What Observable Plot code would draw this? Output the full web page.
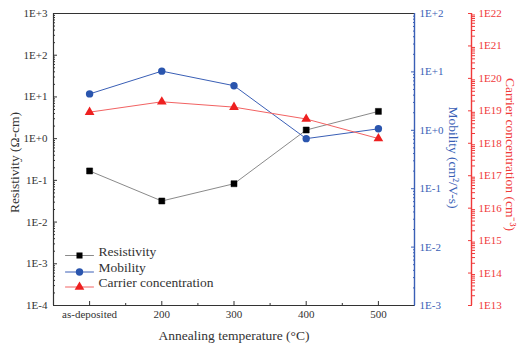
<!DOCTYPE html>
<html><head><meta charset="utf-8">
<script src="https://cdn.jsdelivr.net/npm/d3@7"></script>
<script src="https://cdn.jsdelivr.net/npm/@observablehq/plot@0.6"></script>
<style>body{margin:0;background:#fff} svg{display:block}</style>
</head><body><div id="chart"></div>
<script>
// ---- data ----
const categories = ["as-deposited", "200", "300", "400", "500"];
const temps = [100, 200, 300, 400, 500];
const resistivity = [0.168, 0.032, 0.083, 1.61, 4.5];      // Ω-cm
const mobility = [4.2, 10.3, 5.8, 0.72, 1.06];             // cm²/V-s
const carrier = [9.1e18, 1.9e19, 1.3e19, 5.6e18, 1.4e18];  // cm^-3
const resTickLabels = ["1E-4","1E-3","1E-2","1E-1","1E+0","1E+1","1E+2","1E+3"];
const mobTickLabels = ["1E-3","1E-2","1E-1","1E+0","1E+1","1E+2"];
const carTickLabels = ["1E13","1E14","1E15","1E16","1E17","1E18","1E19","1E20","1E21","1E22"];
const seriesNames = ["Resistivity", "Mobility", "Carrier concentration"];

// ---- scale mapping (all drawn on the resistivity log scale) ----
const resExp = [-4, 3], mobExp = [-3, 2], carExp = [13, 22];
const fromMob = m => 10 ** (resExp[0] + (Math.log10(m) - mobExp[0]) * (resExp[1]-resExp[0]) / (mobExp[1]-mobExp[0]));
const fromCar = c => 10 ** (resExp[0] + (Math.log10(c) - carExp[0]) * (resExp[1]-resExp[0]) / (carExp[1]-carExp[0]));
const majors = ([a, b]) => d3.range(a, b + 1).map(e => 10 ** e);
const minors = ([a, b]) => d3.range(a, b).flatMap(e => d3.range(2, 10).map(k => k * 10 ** e));

const resData = temps.map((t, i) => ({t, v: resistivity[i]}));
const mobData = temps.map((t, i) => ({t, v: fromMob(mobility[i])}));
const carData = temps.map((t, i) => ({t, v: fromCar(carrier[i])}));

const BLUE = "#3a5fb6", RED = "#f03a3a", INK = "#333";
const lineShape = {draw(ctx, l) { ctx.moveTo(0, 0); ctx.lineTo(0, -l); }};
const legend = [
  {name: seriesNames[0], line: "#8a8a8a", fill: "#000", symbol: "square", r: 3.4, dy: -50},
  {name: seriesNames[1], line: BLUE, fill: "#2a55ae", symbol: "circle", r: 3.7, dy: -33.5},
  {name: seriesNames[2], line: "#f26262", fill: "#ee2020", symbol: "triangle", r: 3.6, dy: -18.5}
];

const resMaj = majors(resExp), mobMaj = majors(mobExp).map(fromMob), carMaj = majors(carExp).map(fromCar);
const tickText = (ticks, labels) => ticks.map((v, i) => ({v, label: labels[i]}));

const plot = Plot.plot({
  width: 518, height: 349,
  marginLeft: 53, marginRight: 104, marginTop: 13, marginBottom: 44,
  style: {fontFamily: "'Liberation Serif', 'Times New Roman', serif", fontSize: "11px", color: INK, background: "#fff"},
  x: {domain: [50, 550]},
  y: {type: "log", domain: [1e-4, 1e3]},
  marks: [
    // left axis (black)
    Plot.axisY({ticks: resMaj, anchor: "left", tickSize: 4, dx: 4, fill: "none", stroke: INK, label: null}),
    Plot.axisY({ticks: minors(resExp), anchor: "left", tickSize: 2, dx: 2, fill: "none", stroke: INK, label: null}),
    Plot.text(tickText(resMaj, resTickLabels), {y: "v", text: "label", frameAnchor: "left", textAnchor: "end", dx: -6, fill: INK}),
    // mobility axis (blue)
    Plot.axisY({ticks: mobMaj, anchor: "right", tickSize: 4, dx: -4, fill: "none", stroke: BLUE, label: null}),
    Plot.axisY({ticks: minors(mobExp).map(fromMob), anchor: "right", tickSize: 2, dx: -2, fill: "none", stroke: BLUE, label: null}),
    Plot.text(tickText(mobMaj, mobTickLabels), {y: "v", text: "label", frameAnchor: "right", textAnchor: "start", dx: 5, fill: BLUE}),
    // carrier axis (red), offset to the right
    Plot.axisY({ticks: carMaj, anchor: "right", tickSize: 4, dx: 53, fill: "none", stroke: RED, label: null}),
    Plot.axisY({ticks: minors(carExp).map(fromCar), anchor: "right", tickSize: 3, dx: 57, fill: "none", stroke: RED, label: null}),
    Plot.text(tickText(carMaj, carTickLabels), {y: "v", text: "label", frameAnchor: "right", textAnchor: "start", dx: 64, fill: RED}),
    // x axis
    Plot.axisX({ticks: temps, tickFormat: (d, i) => categories[i], anchor: "bottom", tickSize: 4, dy: -4, tickPadding: 5, label: null, color: INK}),
    Plot.axisX({ticks: [150, 250, 350, 450], anchor: "bottom", tickSize: 2, dy: -2, fill: "none", stroke: INK, label: null}),
    // frame lines
    Plot.ruleY([1e3], {stroke: INK, strokeWidth: 1.2}),
    Plot.ruleY([1e-4], {stroke: INK, strokeWidth: 1.2}),
    Plot.ruleX([50], {stroke: INK, strokeWidth: 1.2}),
    Plot.ruleX([550], {stroke: BLUE, strokeWidth: 1.4}),
    Plot.ruleX([550], {stroke: RED, strokeWidth: 1.4, dx: 57}),
    // axis titles
    Plot.text(["Resistivity (Ω-cm)"], {frameAnchor: "left", textAnchor: "middle", rotate: -90, dx: -39, dy: 3, fontSize: 13.5, fill: INK}),
    Plot.text(["Mobility (cm²/V-s)"], {frameAnchor: "right", textAnchor: "middle", rotate: 90, dx: 39, dy: -2, fontSize: 13.5, fill: BLUE}),
    Plot.text(["Carrier concentration (cm⁻³)"], {frameAnchor: "right", textAnchor: "middle", rotate: 90, dx: 96, dy: -5, fontSize: 13.5, fill: RED}),
    Plot.text(["Annealing temperature (°C)"], {frameAnchor: "bottom", dy: 34, fontSize: 13.5, fill: INK}),
    // series
    Plot.line(resData, {x: "t", y: "v", stroke: legend[0].line, strokeWidth: 1}),
    Plot.line(mobData, {x: "t", y: "v", stroke: legend[1].line, strokeWidth: 1}),
    Plot.line(carData, {x: "t", y: "v", stroke: legend[2].line, strokeWidth: 1}),
    Plot.dot(resData, {x: "t", y: "v", symbol: "square", r: legend[0].r, fill: legend[0].fill, stroke: "#000", strokeWidth: 0.5}),
    Plot.dot(mobData, {x: "t", y: "v", symbol: "circle", r: legend[1].r, fill: legend[1].fill}),
    Plot.dot(carData, {x: "t", y: "v", symbol: "triangle", r: legend[2].r, fill: legend[2].fill}),
    // legend
    ...legend.flatMap(e => [
      Plot.vector([0], {frameAnchor: "bottom-left", dx: 26, dy: e.dy, length: 28, rotate: 90, anchor: "middle", shape: lineShape, stroke: e.line, strokeWidth: 1}),
      Plot.dot([0], {frameAnchor: "bottom-left", dx: 26, dy: e.dy, symbol: e.symbol, r: e.r, fill: e.fill}),
      Plot.text([e.name], {frameAnchor: "bottom-left", dx: 45, dy: e.dy, textAnchor: "start", fontSize: 13.5, fill: INK})
    ])
  ]
});
document.getElementById("chart").appendChild(plot);
</script>
</body></html>
